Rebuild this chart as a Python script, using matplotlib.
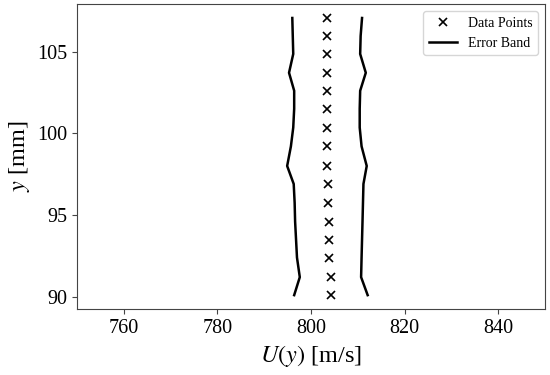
import numpy as np
import matplotlib
matplotlib.use('Agg')
import matplotlib.pyplot as plt

plt.rcParams['font.family'] = ['Liberation Serif', 'DejaVu Serif']
plt.rcParams['mathtext.fontset'] = 'stix'

# measured positions (mm) and velocities (m/s)
y_pos = [90.1, 91.2, 92.4, 93.5, 94.6, 95.75, 96.9, 98.0,
         99.2, 100.35, 101.5, 102.6, 103.7, 104.85, 105.95, 107.05]
u_mean = [804.3, 804.2, 803.8, 803.8, 803.8, 803.7, 803.6, 803.4,
          803.4, 803.4, 803.4, 803.4, 803.4, 803.4, 803.4, 803.4]
u_lower = [796.4, 797.6, 797.0, 796.8, 796.6, 796.5, 796.3, 794.9,
           795.7, 796.2, 796.4, 796.4, 795.3, 796.2, 796.1, 796.0]
u_upper = [812.1, 810.7, 810.8, 810.9, 811.0, 811.1, 811.2, 811.9,
           810.8, 810.4, 810.4, 810.5, 811.7, 810.5, 810.6, 810.9]

fig, ax = plt.subplots(figsize=(5.5, 3.75), dpi=100)
ax.plot(u_mean, y_pos, 'x', color='black', markersize=6, mew=1.2, label='Data Points')
ax.plot(u_lower, y_pos, '-', color='black', lw=1.8, label='Error Band')
ax.plot(u_upper, y_pos, '-', color='black', lw=1.8)

ax.set_xlim(750, 850)
ax.set_xticks([760, 780, 800, 820, 840])
ax.set_yticks([90, 95, 100, 105])
ax.tick_params(labelsize=14.5, color='#444444')
for s in ax.spines.values():
    s.set_color('#444444')
ax.set_xlabel('$U(y)$ [m/s]', fontsize=17.5)
ax.set_ylabel('$y$ [mm]', fontsize=17.5)
ax.legend(loc='upper right', fontsize=10)

plt.subplots_adjust(left=0.14, right=0.991, top=0.989, bottom=0.176)
plt.savefig('out.png')
